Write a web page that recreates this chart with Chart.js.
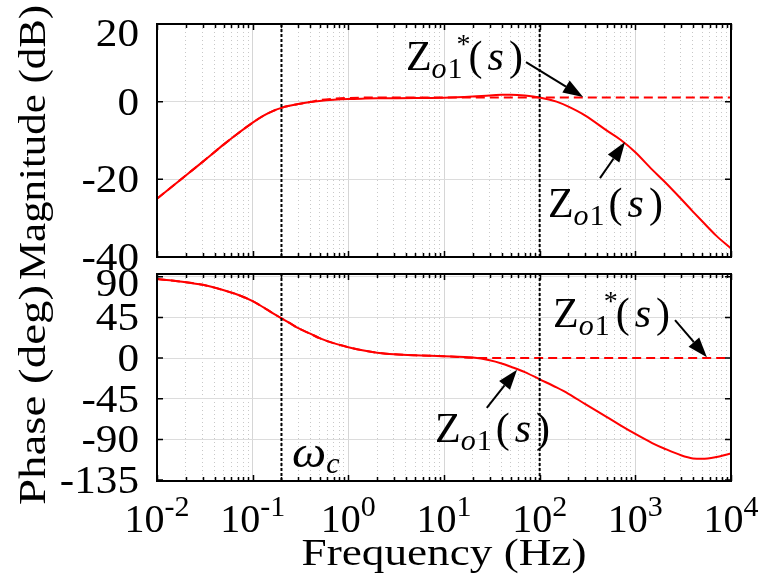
<!DOCTYPE html>
<html>
<head>
<meta charset="utf-8">
<script src="https://cdn.jsdelivr.net/npm/chart.js@4.4.1/dist/chart.umd.min.js"></script>
<style>
  body { margin: 0; background: #fff; }
  #wrap { position: relative; width: 765px; height: 577px; }
  #wrap canvas { position: absolute; left: 0; top: 0; }
</style>
</head>
<body>
<div id="wrap">
  <canvas id="mag" width="765" height="577"></canvas>
  <canvas id="phase" width="765" height="577"></canvas>
</div>
<script>
// frequency points (Hz) and values
const freqs = [0.01, 0.02, 0.03, 0.05, 0.07, 0.1, 0.13, 0.16, 0.2, 0.25, 0.3, 0.4, 0.5, 0.7, 1, 1.5, 2, 3, 5, 10, 20, 30, 40, 50, 70, 100, 150, 200, 300, 500, 700, 1000, 1500, 2000, 3000, 4000, 5000, 7000, 10000];
const magZo1 = [-25, -19, -15.5, -11, -8.2, -5.4, -3.6, -2.5, -1.6, -1.0, -0.6, -0.1, 0.2, 0.5, 0.7, 0.8, 0.85, 0.9, 0.95, 1.0, 1.3, 1.6, 1.75, 1.8, 1.6, 1.1, 0, -1.3, -3.6, -7.4, -9.8, -13, -17.5, -20.5, -25, -28.3, -30.8, -34.5, -37.8];
const magZo1Star = [-25, -19, -15.5, -11, -8.2, -5.4, -3.6, -2.5, -1.6, -1.0, -0.6, -0.1, 0.4, 0.75, 0.95, 1.05, 1.1, 1.1, 1.1, 1.1, 1.1, 1.1, 1.1, 1.1, 1.1, 1.1, 1.1, 1.1, 1.1, 1.1, 1.1, 1.1, 1.1, 1.1, 1.1, 1.1, 1.1, 1.1, 1.1];
const phaseZo1 = [87.5, 84, 81, 75, 70, 63, 56, 50, 44, 38, 33, 27, 22, 16.5, 12, 8, 6, 4.2, 3, 2, 0.5, -2.5, -6, -9.6, -15.5, -23.5, -32.5, -39.5, -51, -65, -74.5, -84, -94, -100, -107.5, -111, -111.5, -109.5, -105.5];
const phaseZo1Star = [87.5, 84, 81, 75, 70, 63, 56, 50, 44, 38, 33, 27, 22, 16.5, 12, 8, 6, 4.2, 3, 2, 0.3, 0, 0, 0, 0, 0, 0, 0, 0, 0, 0, 0, 0, 0, 0, 0, 0, 0, 0];

const markerFreqs = [0.2, 100];          // black dotted lines (omega_c and 100 Hz)
const decadeExps = [-2, -1, 0, 1, 2, 3, 4];
const magTicks = [-40, -20, 0, 20];
const phaseTicks = [-135, -90, -45, 0, 45, 90];
const magRange = [-40, 20];
const phaseRange = [-136, 93];

// annotation anchors in data units: [freq, value]
const magNotes = {
  star: { label: [4, 8.2], tail: [72, 10.2], tip: [284, 1.2] },
  plain: { label: [122, -29.7], tail: [427, -19.7], tip: [780, -10.4] }
};
const phaseNotes = {
  star: { label: [138, 34.4], tail: [2600, 42], tip: [5600, 0.8] },
  plain: { label: [8.05, -93], tail: [28, -55], tip: [58, -13] },
  omega: [0.258, -120.5]
};

const SERIF = '"Liberation Serif", "Times New Roman", serif';
const RED = '#ff0000';

function isDecade(v) {
  if (!v) return false;
  const l = Math.log10(v);
  return Math.abs(l - Math.round(l)) < 1e-6;
}

function gridFreqs() {
  const out = [];
  for (let i = 0; i < decadeExps.length - 1; i++) {
    for (let m = 1; m < 10; m++) out.push(m * Math.pow(10, decadeExps[i]));
  }
  out.push(Math.pow(10, decadeExps[decadeExps.length - 1]));
  return out;
}

function pts(ys) {
  return freqs.map((f, i) => ({ x: f, y: ys[i] }));
}

function markerSets(range) {
  return markerFreqs.map(f => ({
    data: [{ x: f, y: range[0] }, { x: f, y: range[1] }],
    borderColor: '#000', borderWidth: 2, borderDash: [3, 2], pointRadius: 0
  }));
}

function curveSets(solid, dashed) {
  return [
    { data: pts(dashed), borderColor: RED, borderWidth: 2, borderDash: [9, 5], pointRadius: 0, cubicInterpolationMode: 'monotone' },
    { data: pts(solid), borderColor: RED, borderWidth: 2, pointRadius: 0, cubicInterpolationMode: 'monotone' }
  ];
}

function xScale() {
  return {
    type: 'logarithmic',
    min: Math.pow(10, decadeExps[0]),
    max: Math.pow(10, decadeExps[decadeExps.length - 1]),
    afterBuildTicks: s => { s.ticks = gridFreqs().map(v => ({ value: v })); },
    afterFit: s => { s.height = 0; },
    ticks: { display: false },
    grid: {
      color: c => isDecade(c.tick && c.tick.value) ? '#d6d6d6' : '#c8c8c8',
      lineWidth: 1,
      drawTicks: false
    },
    border: { display: false, dash: c => isDecade(c.tick && c.tick.value) ? [] : [1, 3] }
  };
}

function yScale(range, ticks) {
  return {
    min: range[0], max: range[1],
    afterBuildTicks: s => { s.ticks = ticks.map(v => ({ value: v })); },
    afterFit: s => { s.width = 157; },
    ticks: { display: false },
    grid: { color: '#dcdcdc', drawTicks: false },
    border: { display: false }
  };
}

function drawText(ctx, str, x, y, font, sx, align) {
  ctx.save();
  ctx.font = font;
  ctx.textAlign = align || 'left';
  ctx.textBaseline = 'alphabetic';
  ctx.translate(x, y);
  ctx.scale(sx, 1);
  ctx.fillText(str, 0, 0);
  ctx.restore();
}

// rotated title stretched to a given length along the text
function drawVTitle(ctx, str, x, cy, len) {
  ctx.save();
  ctx.font = '37px ' + SERIF;
  const w = ctx.measureText(str).width;
  ctx.translate(x, cy);
  ctx.rotate(-Math.PI / 2);
  ctx.scale(len / w, 1);
  ctx.textAlign = 'center';
  ctx.fillText(str, 0, 0);
  ctx.restore();
}

function drawArrow(ctx, x1, y1, x2, y2) {
  const ang = Math.atan2(y2 - y1, x2 - x1);
  const hl = 20, hw = 7;
  const bx = x2 - hl * Math.cos(ang), by = y2 - hl * Math.sin(ang);
  ctx.save();
  ctx.strokeStyle = '#000'; ctx.fillStyle = '#000'; ctx.lineWidth = 2;
  ctx.beginPath(); ctx.moveTo(x1, y1); ctx.lineTo(bx, by); ctx.stroke();
  ctx.beginPath();
  ctx.moveTo(x2, y2);
  ctx.lineTo(bx + hw * Math.sin(ang), by - hw * Math.cos(ang));
  ctx.lineTo(bx - hw * Math.sin(ang), by + hw * Math.cos(ang));
  ctx.closePath(); ctx.fill();
  ctx.restore();
}

// Z_{o1}(s) or Z_{o1}^*(s)
function drawZ(ctx, x, y, star) {
  ctx.save();
  ctx.fillStyle = '#000';
  ctx.textAlign = 'left'; ctx.textBaseline = 'alphabetic';
  let cx = x;
  ctx.font = '42px ' + SERIF; ctx.fillText('Z', cx, y); cx += ctx.measureText('Z').width;
  ctx.font = 'italic 30px ' + SERIF; ctx.fillText('o', cx, y + 8); cx += ctx.measureText('o').width + 1;
  ctx.font = '30px ' + SERIF; ctx.fillText('1', cx, y + 8); cx += ctx.measureText('1').width;
  if (star) { ctx.font = '28px ' + SERIF; ctx.fillText('*', cx - 6, y - 17); cx += 2; }
  cx += 4;
  ctx.font = '42px ' + SERIF; ctx.fillText('(', cx, y); cx += ctx.measureText('(').width + 5;
  ctx.font = 'italic 42px ' + SERIF; ctx.fillText('s', cx, y); cx += ctx.measureText('s').width + 5;
  ctx.font = '42px ' + SERIF; ctx.fillText(')', cx, y);
  ctx.restore();
}

function note(ctx, sx, sy, n, star) {
  const P = p => [sx.getPixelForValue(p[0]), sy.getPixelForValue(p[1])];
  const l = P(n.label), t = P(n.tail), h = P(n.tip);
  drawZ(ctx, l[0], l[1], star);
  drawArrow(ctx, t[0], t[1], h[0], h[1]);
}

const framePlugin = {
  id: 'frame',
  afterDatasetsDraw(chart) {
    const { ctx, chartArea: a, scales } = chart;
    ctx.save();
    ctx.strokeStyle = '#000';
    ctx.lineWidth = 1.5;
    ctx.beginPath();
    scales.x.ticks.forEach(t => {
      const px = Math.round(scales.x.getPixelForValue(t.value)) + 0.5;
      const len = isDecade(t.value) ? 6 : 4;
      ctx.moveTo(px, a.top); ctx.lineTo(px, a.top + len);
      ctx.moveTo(px, a.bottom); ctx.lineTo(px, a.bottom - len);
    });
    scales.y.ticks.forEach(t => {
      const py = scales.y.getPixelForValue(t.value);
      ctx.moveTo(a.left, py); ctx.lineTo(a.left + 6, py);
      ctx.moveTo(a.right, py); ctx.lineTo(a.right - 6, py);
    });
    ctx.stroke();
    ctx.lineWidth = 2;
    ctx.strokeRect(a.left, a.top, a.right - a.left, a.bottom - a.top);
    ctx.restore();
  }
};

function yLabels(ctx, chart, ticks) {
  const s = chart.scales.y, a = chart.chartArea;
  ctx.fillStyle = '#000';
  ticks.forEach(v => {
    let py = s.getPixelForValue(v);
    py = Math.max(py, a.top + 9);
    drawText(ctx, String(v), 139, py + 13, '40px ' + SERIF, 1.08, 'right');
  });
}

const magLabels = {
  id: 'magLabels',
  afterDraw(chart) {
    const ctx = chart.ctx, a = chart.chartArea;
    ctx.save();
    yLabels(ctx, chart, magTicks);
    drawVTitle(ctx, 'Magnitude (dB)', 45, (a.top + a.bottom) / 2 + 2, 275);
    note(ctx, chart.scales.x, chart.scales.y, magNotes.star, true);
    note(ctx, chart.scales.x, chart.scales.y, magNotes.plain, false);
    ctx.restore();
  }
};

const phaseLabels = {
  id: 'phaseLabels',
  afterDraw(chart) {
    const ctx = chart.ctx, a = chart.chartArea;
    const sx = chart.scales.x, sy = chart.scales.y;
    ctx.save();
    ctx.fillStyle = '#000';
    yLabels(ctx, chart, phaseTicks);
    // x tick labels 10^n
    decadeExps.forEach(e => {
      const px = sx.getPixelForValue(Math.pow(10, e));
      ctx.font = '40px ' + SERIF;
      const w1 = ctx.measureText('10').width;
      ctx.font = '30px ' + SERIF;
      const w2 = ctx.measureText(String(e)).width;
      const left = px - (w1 + w2) / 2;
      drawText(ctx, '10', left, 532, '40px ' + SERIF, 1, 'left');
      drawText(ctx, String(e), left + w1, 516, '30px ' + SERIF, 1, 'left');
    });
    ctx.font = '37px ' + SERIF;
    const fw = ctx.measureText('Frequency (Hz)').width;
    drawText(ctx, 'Frequency (Hz)', (a.left + a.right) / 2, 565, '37px ' + SERIF, 285 / fw, 'center');
    drawVTitle(ctx, 'Phase (deg)', 45, 395, 220);
    note(ctx, sx, sy, phaseNotes.star, true);
    note(ctx, sx, sy, phaseNotes.plain, false);
    const om = phaseNotes.omega;
    const ox = sx.getPixelForValue(om[0]), oy = sy.getPixelForValue(om[1]);
    drawText(ctx, '\u03c9', ox, oy, 'italic 44px ' + SERIF, 1.1, 'left');
    ctx.font = 'italic 44px ' + SERIF;
    const ow = ctx.measureText('\u03c9').width * 1.1;
    drawText(ctx, 'c', ox + ow, oy + 6, 'italic 30px ' + SERIF, 1, 'left');
    ctx.restore();
  }
};

function makeChart(id, datasets, range, ticks, pad, labelPlugin) {
  return new Chart(document.getElementById(id), {
    type: 'line',
    data: { datasets: datasets },
    options: {
      responsive: false,
      animation: false,
      parsing: false,
      layout: { padding: pad },
      plugins: { legend: { display: false }, tooltip: { enabled: false } },
      scales: { x: xScale(), y: yScale(range, ticks) }
    },
    plugins: [framePlugin, labelPlugin]
  });
}

function build() {
  makeChart('mag',
    markerSets(magRange).concat(curveSets(magZo1, magZo1Star)),
    magRange, magTicks, { left: 0, top: 24, right: 34, bottom: 320 }, magLabels);
  makeChart('phase',
    markerSets(phaseRange).concat(curveSets(phaseZo1, phaseZo1Star)),
    phaseRange, phaseTicks, { left: 0, top: 274, right: 34, bottom: 96 }, phaseLabels);
}

Promise.all([
  document.fonts.load('40px "Liberation Serif"'),
  document.fonts.load('italic 40px "Liberation Serif"')
]).then(build, build);
</script>
</body>
</html>
